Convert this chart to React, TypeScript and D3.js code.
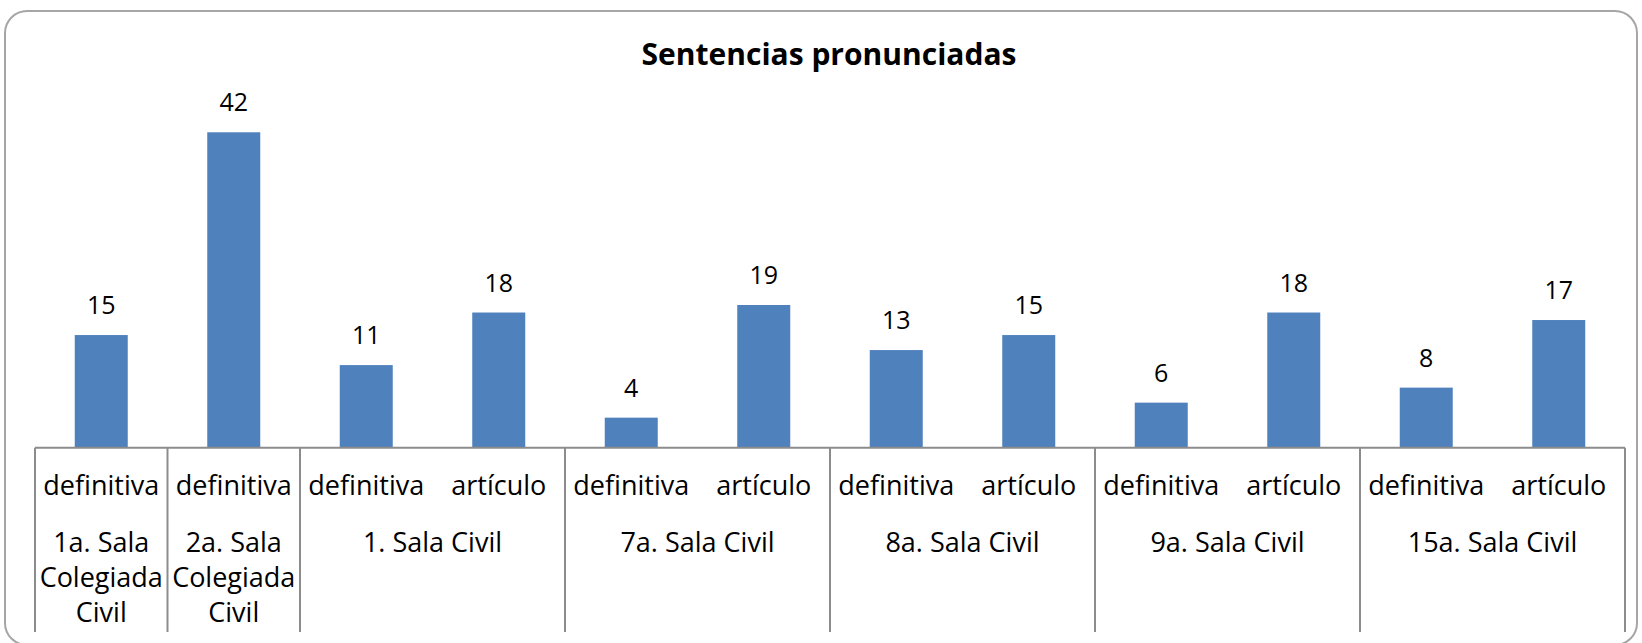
import React, { useRef, useEffect } from 'react';
import * as d3 from 'd3';

// categories: one entry per bar, with the group it belongs to
const barLabels = ['definitiva', 'definitiva', 'definitiva', 'artículo', 'definitiva', 'artículo', 'definitiva', 'artículo', 'definitiva', 'artículo', 'definitiva', 'artículo'];
const barGroups = [0, 1, 2, 2, 3, 3, 4, 4, 5, 5, 6, 6];
const values = [15, 42, 11, 18, 4, 19, 13, 15, 6, 18, 8, 17];
const groupLabels = [
  ['1a. Sala', 'Colegiada', 'Civil'],
  ['2a. Sala', 'Colegiada', 'Civil'],
  ['1. Sala Civil'],
  ['7a. Sala Civil'],
  ['8a. Sala Civil'],
  ['9a. Sala Civil'],
  ['15a. Sala Civil'],
];
const title = 'Sentencias pronunciadas';

const width = 1642;
const height = 643;
const font = "'Open Sans', 'Noto Sans', sans-serif";

const App = () => {
  const ref = useRef<SVGSVGElement>(null);

  useEffect(() => {
    const svg = d3.select(ref.current);
    svg.selectAll('*').remove();

    const axisY = 447.7;
    const sepBottom = 632;

    const x = d3.scaleBand<number>()
      .domain(values.map((_, i) => i))
      .range([35, 1625])
      .paddingInner(0.6)
      .paddingOuter(0.3);

    const y = d3.scaleLinear()
      .domain([0, 45])
      .range([axisY, axisY - 45 * 7.51]);

    // outer frame, bottom edge falls just off the picture
    svg.append('rect')
      .attr('x', 5).attr('y', 11)
      .attr('width', 1632).attr('height', 634)
      .attr('rx', 22).attr('ry', 22)
      .attr('fill', '#fff')
      .attr('stroke', '#a6a6a6')
      .attr('stroke-width', 2);

    svg.append('text')
      .attr('x', 829)
      .attr('y', 65)
      .attr('text-anchor', 'middle')
      .attr('font-family', font)
      .attr('font-weight', 'bold')
      .attr('font-size', '30px')
      .attr('fill', '#000')
      .text(title);

    svg.append('g')
      .selectAll('rect')
      .data(values)
      .join('rect')
      .attr('x', (_, i) => x(i)!)
      .attr('y', d => y(d))
      .attr('width', x.bandwidth())
      .attr('height', d => axisY - y(d))
      .attr('fill', '#4f81bd');

    svg.append('g')
      .selectAll('text')
      .data(values)
      .join('text')
      .attr('x', (_, i) => x(i)! + x.bandwidth() / 2)
      .attr('y', d => y(d) - 21)
      .attr('text-anchor', 'middle')
      .attr('font-family', font)
      .attr('font-size', '25px')
      .attr('fill', '#000')
      .text(d => d);

    // axis line and group separators
    const step = x.step();
    const axis = svg.append('g').attr('stroke', '#8c8c8c').attr('stroke-width', 2);
    axis.append('line')
      .attr('x1', 35).attr('x2', 1625)
      .attr('y1', axisY).attr('y2', axisY);

    const groupStart: number[] = [];
    const groupEnd: number[] = [];
    barGroups.forEach((g, i) => {
      const left = x(i)! - step * 0.3;
      const right = left + step;
      if (groupStart[g] === undefined) groupStart[g] = left;
      groupEnd[g] = right;
    });
    const edges = [groupStart[0], ...groupEnd];
    axis.selectAll('line.sep')
      .data(edges)
      .join('line')
      .attr('class', 'sep')
      .attr('x1', d => d).attr('x2', d => d)
      .attr('y1', axisY).attr('y2', sepBottom);

    svg.append('g')
      .selectAll('text')
      .data(barLabels)
      .join('text')
      .attr('x', (_, i) => x(i)! + x.bandwidth() / 2)
      .attr('y', 495)
      .attr('text-anchor', 'middle')
      .attr('font-family', font)
      .attr('font-size', '27px')
      .attr('fill', '#000')
      .text(d => d);

    const gl = svg.append('g');
    groupLabels.forEach((lines, g) => {
      const cx = (groupStart[g] + groupEnd[g]) / 2;
      lines.forEach((line, k) => {
        gl.append('text')
          .attr('x', cx)
          .attr('y', 552 + k * 35)
          .attr('text-anchor', 'middle')
          .attr('font-family', font)
          .attr('font-size', '27px')
          .attr('fill', '#000')
          .text(line);
      });
    });
  }, []);

  return (
    <div style={{ position: 'absolute', left: 0, top: 0 }}>
      <svg ref={ref} width={width} height={height} style={{ display: 'block' }}></svg>
    </div>
  );
};

export default App;
